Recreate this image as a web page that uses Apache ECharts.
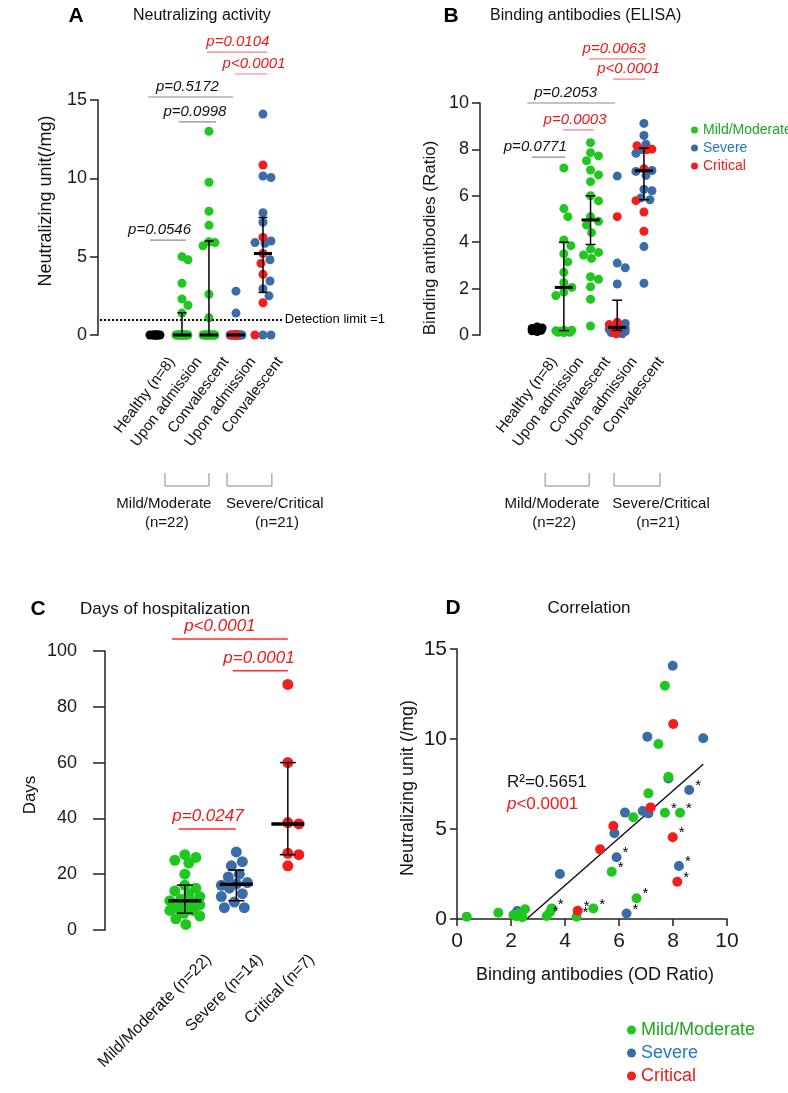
<!DOCTYPE html>
<html>
<head>
<meta charset="utf-8">
<script src="https://cdn.jsdelivr.net/npm/echarts@6.0.0/dist/echarts.min.js"></script>
<style>
html,body{margin:0;padding:0;background:#fff;}
#c{width:788px;height:1093px;}
</style>
</head>
<body>
<div id="c"></div>
<script>
// ---------------- DATA ----------------
const legendNames = ['Mild/Moderate', 'Severe', 'Critical'];
const panelLetters = ['A', 'B', 'C', 'D'];
const panelTitles = ['Neutralizing activity', 'Binding antibodies (ELISA)', 'Days of hospitalization', 'Correlation'];

// Panel A / B categories
const catsAB = ['Healthy (n=8)', 'Upon admission', 'Convalescent', 'Upon admission', 'Convalescent'];
const groupNames = ['Mild/Moderate', 'Severe/Critical'];
const groupCounts = ['(n=22)', '(n=21)'];

// Panel A: neutralizing unit (/mg)
const neutHealthy   = [0, 0, 0, 0, 0, 0, 0, 0];
const neutMildAdm   = [5.0, 4.8, 3.3, 2.3, 1.9, 1.4, 0, 0, 0, 0, 0, 0, 0, 0, 0, 0, 0, 0, 0, 0, 0, 0];
const neutMildConv  = [13.0, 9.75, 7.9, 7.0, 5.95, 5.9, 5.7, 2.6, 1.1, 0, 0, 0, 0, 0, 0, 0, 0, 0, 0, 0, 0, 0];
const neutSevAdm    = [2.8, 1.4, 0, 0, 0, 0, 0, 0, 0, 0, 0, 0, 0, 0];
const neutCritAdm   = [0, 0, 0, 0, 0, 0, 0];
const neutSevConv   = [14.1, 10.15, 10.05, 7.8, 7.2, 6.0, 5.9, 5.85, 4.8, 3.45, 2.95, 2.5, 0, 0];
const neutCritConv  = [10.85, 6.23, 5.2, 4.57, 3.87, 2.06, 0];
const neutQ1  = [null, 0, 0, 0, 2.72];
const neutMed = [null, 0, 0, 0, 5.2];
const neutQ3  = [null, 1.42, 6.0, 0, 7.5];
const detectionLimit = 1;
const detectionLabel = 'Detection limit =1';
const pLabelsA = ['p=0.0546', 'p=0.5172', 'p=0.0998', 'p=0.0104', 'p<0.0001'];
const pSigA = [false, false, false, true, true];

// Panel B: binding antibodies (ratio)
const bindHealthy  = [0.35, 0.3, 0.28, 0.25, 0.22, 0.2, 0.18, 0.15];
const bindMildAdm  = [7.2, 5.45, 5.1, 4.1, 3.85, 3.5, 3.15, 2.7, 2.25, 2.05, 1.85, 1.7, 0.2, 0.15, 0.15, 0.12, 0.2, 0.1, 0.15, 0.18, 0.12, 0.15];
const bindMildConv = [8.29, 7.86, 7.72, 7.51, 7.11, 6.9, 6.61, 6.0, 5.78, 5.1, 4.9, 4.74, 4.41, 3.7, 3.56, 3.45, 3.3, 2.51, 2.4, 2.08, 1.54, 0.39];
const bindSevAdm   = [6.85, 3.1, 2.9, 2.2, 0.5, 0.4, 0.35, 0.3, 0.25, 0.2, 0.15, 0.1, 0.1, 0.05];
const bindCritAdm  = [5.1, 0.55, 0.45, 0.3, 0.2, 0.1, 0.05];
const bindSevConv  = [9.12, 8.6, 8.22, 7.99, 7.83, 7.09, 7.05, 6.88, 6.28, 6.22, 5.91, 5.83, 3.81, 2.23];
const bindCritConv = [8.16, 8.01, 7.99, 7.17, 5.79, 5.3, 4.47];
const bindQ1  = [null, 0.19, 3.9, 0.2, 5.83];
const bindMed = [null, 2.05, 4.96, 0.33, 7.08];
const bindQ3  = [null, 4.0, 6.0, 1.5, 8.05];
const pLabelsB = ['p=0.0771', 'p=0.0003', 'p=0.2053', 'p=0.0063', 'p<0.0001'];
const pSigB = [false, true, false, true, true];

// Panel C: days of hospitalization
const catsC = ['Mild/Moderate (n=22)', 'Severe (n=14)', 'Critical (n=7)'];
const daysMild     = [27, 26, 25, 24, 20, 16, 15, 14, 13, 12, 11, 10.5, 10, 9, 9, 8, 7, 7, 6, 5, 4, 2];
const daysSevere   = [28, 24.5, 23, 20, 19, 17, 16.5, 16, 15, 13, 12, 10, 8, 8];
const daysCritical = [88, 60, 38.5, 38, 27.5, 27, 23];
const daysQ1  = [6.0, 10.5, 27];
const daysMed = [10.5, 16.4, 38];
const daysQ3  = [16.1, 21.5, 60];
const pLabelsC = ['p<0.0001', 'p=0.0001', 'p=0.0247'];
const pSigC = [true, true, true];

// Panel D: correlation [binding OD ratio, neutralizing unit]
const corrMild = [[0.36,0.13],[1.53,0.35],[2.09,0.22],[2.2,0.15],[2.3,0.3],[2.42,0.1],[2.52,0.54],[3.32,0.17],[3.45,0.4],[3.51,0.59],[4.43,0.13],[5.05,0.59],[5.73,2.63],[6.53,5.65],[6.65,1.15],[7.09,6.98],[7.46,9.72],[7.7,12.96],[7.83,7.9],[7.7,5.9],[8.26,5.9]];
const corrMildStar = [0,0,0,0,0,0,0,1,0,1,1,1,1,0,1,0,0,0,0,1,1];
const corrSevere = [[2.23,0.44],[3.81,2.5],[5.83,4.76],[5.91,3.43],[6.22,5.91],[6.28,0.31],[6.88,6.0],[7.09,5.87],[7.05,10.13],[7.83,7.81],[7.99,14.07],[8.22,2.94],[8.6,7.17],[9.12,10.04]];
const corrSevereStar = [0,0,0,1,0,1,0,0,0,0,0,1,1,0];
const corrCritical = [[4.47,0.46],[5.3,3.87],[5.79,5.17],[7.17,6.2],[7.99,4.54],[8.01,10.83],[8.16,2.07]];
const corrCriticalStar = [1,0,0,0,1,0,1];
const fitLine = [[2.58, 0], [9.12, 8.6]];
const r2Text = 'R²=0.5651';
const corrPText = '<0.0001';

// ---------------- STYLE / LAYOUT ----------------
const FONT = '"Liberation Sans", Arial, Helvetica, sans-serif';
const GREEN = '#1fc71f', BLUE = '#3a6da8', RED = '#f21d1d', BLACK = '#000';
const GREEN_T = '#1aa81a', BLUE_T = '#1f78c8', RED_T = '#ee1b1b';
const AX = '#222';

const LA = {left: 98, top: 100, height: 235, xmin: -2.11, xmax: 5.0, ppx: 27, ymax: 15};
const LB = {left: 480, top: 103, height: 232, xmin: -2.14, xmax: 4.6, ppx: 26.7, ymax: 10};
const LC = {left: 105, top: 651, height: 279, xmin: -1.55, xmax: 2.6, ppx: 51.5, ymax: 100};
const LD = {left: 457, top: 649, width: 270, height: 270};

// annotation geometry in data units: [x1, x2, yLine, textX]
const pGeomA = [[-0.19, 1.15, 6.06, 0.17], [-0.26, 2.89, 15.19, 1.2], [0.89, 2.26, 13.6, 1.48], [1.93, 4.15, 18.06, 3.07], [2.96, 4.15, 16.66, 3.67]];
const pGeomB = [[-0.19, 1.05, 7.67, -0.07], [0.97, 2.13, 8.84, 1.42], [-0.37, 2.92, 10.0, 1.07], [1.95, 4.08, 11.9, 2.88], [2.85, 4.04, 11.03, 3.43]];
const pGeomC = [[-0.25, 2.0, 104.3, 0.68], [0.93, 2.0, 92.9, 1.44], [-0.12, 0.99, 36.2, 0.45]];
const bracketsA = [[0.37, 2.0], [2.67, 4.33]];
const bracketsB = [[0.3, 1.95], [2.88, 4.6]];
const groupTextA = [[0.33, 0.44], [4.44, 4.52]];
const groupTextB = [[0.56, 0.64], [4.64, 4.53]];

function grid(L) {
  const w = L.width || (L.xmax - L.xmin) * L.ppx;
  return {left: L.left, top: L.top, width: w, height: L.height};
}

// simple beeswarm: offsets (px) so that dots in one column overlap little
function swarm(groups, cat, L, diam, maxOff) {
  const pxY = L.height / L.ymax;
  const pts = [];
  groups.forEach((vals, g) => vals.forEach((v, i) => pts.push({g, i, v})));
  const order = pts.slice().sort((a, b) => b.v - a.v);
  const placed = [];
  order.forEach(p => {
    const py = p.v * pxY;
    let best = 0, bestScore = -1;
    for (let k = 0; k <= 2 * maxOff; k++) {
      const off = (k % 2 ? 1 : -1) * Math.ceil(k / 2);
      let md = Infinity;
      for (const q of placed) {
        const d = Math.hypot(off - q.ox, py - q.py);
        if (d < md) md = d;
      }
      if (md >= diam) { best = off; bestScore = Infinity; break; }
      if (md > bestScore + 0.01) { bestScore = md; best = off; }
    }
    p.ox = best; p.py = py; placed.push(p);
  });
  const out = groups.map(v => new Array(v.length));
  pts.forEach(p => { out[p.g][p.i] = [cat + p.ox / L.ppx, p.v]; });
  return out;
}

// swarms
const aH = swarm([neutHealthy], 0, LA, 9, 5);
const aM1 = swarm([neutMildAdm], 1, LA, 9, 6);
const aM2 = swarm([neutMildConv], 2, LA, 9, 6);
const aS3 = swarm([neutSevAdm, neutCritAdm], 3, LA, 9, 6);
const aS4 = swarm([neutSevConv, neutCritConv], 4, LA, 9, 8);

const bH = swarm([bindHealthy], 0, LB, 9, 5);
const bM1 = swarm([bindMildAdm], 1, LB, 9, 8);
const bM2 = swarm([bindMildConv], 2, LB, 9, 8);
const bS3 = swarm([bindSevAdm, bindCritAdm], 3, LB, 9, 8);
const bS4 = swarm([bindSevConv, bindCritConv], 4, LB, 9, 8);

const cM = swarm([daysMild], 0, LC, 11, 15);
const cS = swarm([daysSevere], 1, LC, 11, 15);
const cC = swarm([daysCritical], 2, LC, 11, 15);

function stats(q1, med, q3) {
  const out = [];
  q1.forEach((v, i) => { if (v !== null) out.push([i, q1[i], med[i], q3[i]]); });
  return out;
}

function errRender(cap, mh, mw) {
  return function (params, api) {
    const x = api.value(0), lo = api.value(1), md = api.value(2), hi = api.value(3);
    const a = api.coord([x, lo]), m = api.coord([x, md]), b = api.coord([x, hi]);
    const st = {stroke: '#000', lineWidth: 1.5};
    const ch = [];
    if (hi > lo) {
      ch.push({type: 'line', shape: {x1: a[0], y1: a[1], x2: b[0], y2: b[1]}, style: st});
      ch.push({type: 'line', shape: {x1: a[0] - cap, y1: a[1], x2: a[0] + cap, y2: a[1]}, style: st});
      ch.push({type: 'line', shape: {x1: b[0] - cap, y1: b[1], x2: b[0] + cap, y2: b[1]}, style: st});
    }
    ch.push({type: 'line', shape: {x1: m[0] - mh, y1: m[1], x2: m[0] + mh, y2: m[1]}, style: {stroke: '#000', lineWidth: mw}});
    return {type: 'group', children: ch};
  };
}

function scat(name, data, gi, color, size, extra) {
  return Object.assign({
    type: 'scatter', name, data, xAxisIndex: gi, yAxisIndex: gi,
    symbolSize: size, clip: false, z: 2,
    itemStyle: {color, opacity: 1}, emphasis: {disabled: true}
  }, extra || {});
}

function yAx(gi, max, interval, tickLen, margin, fs) {
  return {
    gridIndex: gi, type: 'value', min: 0, max, interval,
    axisLine: {show: true, onZero: false, lineStyle: {color: AX, width: 1.5}},
    axisTick: {show: true, length: tickLen, lineStyle: {color: AX, width: 1.5}},
    axisLabel: {fontSize: fs, color: '#1a1a1a', margin, fontFamily: FONT},
    splitLine: {show: false}
  };
}
function xHidden(gi, L) {
  return {gridIndex: gi, type: 'value', min: L.xmin, max: L.xmax, show: false, splitLine: {show: false},
          axisLine: {onZero: false}};
}

function starData(pts, stars) {
  return pts.map((p, i) => stars[i] ? {value: p, label: {show: true}} : {value: p});
}
const starLabel = {show: false, formatter: '*', position: 'right', distance: 1, offset: [0, -4], fontSize: 15, color: '#000', fontFamily: FONT};

const option = {
  backgroundColor: '#fff',
  animation: false,
  textStyle: {fontFamily: FONT},
  grid: [grid(LA), grid(LB), grid(LC), grid(LD)],
  xAxis: [
    xHidden(0, LA), xHidden(1, LB), xHidden(2, LC),
    {gridIndex: 3, type: 'value', min: 0, max: 10, interval: 2,
     axisLine: {show: true, onZero: false, lineStyle: {color: AX, width: 1.5}},
     axisTick: {show: true, length: 7, lineStyle: {color: AX, width: 1.5}},
     axisLabel: {fontSize: 21, color: '#1a1a1a', margin: 12, fontFamily: FONT},
     splitLine: {show: false}}
  ],
  yAxis: [
    yAx(0, 15, 5, 8, 11, 18),
    yAx(1, 10, 2, 8, 11, 18),
    yAx(2, 100, 20, 12, 28, 18),
    yAx(3, 15, 5, 7, 10, 21)
  ],
  legend: [
    {orient: 'vertical', left: 686, top: 118, itemWidth: 7, itemHeight: 7, itemGap: 4, icon: 'circle',
     selectedMode: false, textStyle: {fontSize: 14, fontFamily: FONT},
     data: [{name: legendNames[0], textStyle: {color: GREEN_T}}, {name: legendNames[1], textStyle: {color: BLUE_T}}, {name: legendNames[2], textStyle: {color: RED_T}}]},
    {orient: 'vertical', left: 622, top: 1016, itemWidth: 9, itemHeight: 9, itemGap: 5, icon: 'circle',
     selectedMode: false, textStyle: {fontSize: 18, fontFamily: FONT},
     data: [{name: legendNames[0], textStyle: {color: GREEN_T}}, {name: legendNames[1], textStyle: {color: BLUE_T}}, {name: legendNames[2], textStyle: {color: RED_T}}]}
  ],
  series: [
    // Panel A
    scat('Healthy', aH[0], 0, BLACK, 9, {
      markLine: {silent: true, symbol: ['none', 'none'], animation: false,
        lineStyle: {type: 'dotted', color: '#000', width: 2},
        label: {show: true, position: 'end', formatter: detectionLabel, fontSize: 13, color: '#000', distance: 3, fontFamily: FONT},
        emphasis: {disabled: true},
        data: [[{coord: [-2.04, detectionLimit]}, {coord: [4.7, detectionLimit]}]]}
    }),
    scat(legendNames[0], aM1[0].concat(aM2[0]), 0, GREEN, 9),
    scat(legendNames[1], aS3[0].concat(aS4[0]), 0, BLUE, 9),
    scat(legendNames[2], aS3[1].concat(aS4[1]), 0, RED, 9),
    {type: 'custom', name: 'statsA', xAxisIndex: 0, yAxisIndex: 0, z: 5, clip: false,
     renderItem: errRender(4.5, 9, 3), data: stats(neutQ1, neutMed, neutQ3), encode: {x: 0, y: [1, 2, 3]}, silent: true},
    // Panel B
    scat('Healthy', bH[0], 1, BLACK, 9),
    scat(legendNames[0], bM1[0].concat(bM2[0]), 1, GREEN, 9),
    scat(legendNames[1], bS3[0].concat(bS4[0]), 1, BLUE, 9),
    scat(legendNames[2], bS3[1].concat(bS4[1]), 1, RED, 9),
    {type: 'custom', name: 'statsB', xAxisIndex: 1, yAxisIndex: 1, z: 5, clip: false,
     renderItem: errRender(5, 9, 3), data: stats(bindQ1, bindMed, bindQ3), encode: {x: 0, y: [1, 2, 3]}, silent: true},
    // Panel C
    scat(legendNames[0], cM[0], 2, GREEN, 11),
    scat(legendNames[1], cS[0], 2, BLUE, 11),
    scat(legendNames[2], cC[0], 2, RED, 11),
    {type: 'custom', name: 'statsC', xAxisIndex: 2, yAxisIndex: 2, z: 5, clip: false,
     renderItem: errRender(8, 16.5, 3.5), data: stats(daysQ1, daysMed, daysQ3), encode: {x: 0, y: [1, 2, 3]}, silent: true},
    // Panel D
    scat(legendNames[1], starData(corrSevere, corrSevereStar), 3, BLUE, 10, {label: starLabel}),
    scat(legendNames[0], starData(corrMild, corrMildStar), 3, GREEN, 10, {label: starLabel}),
    scat(legendNames[2], starData(corrCritical, corrCriticalStar), 3, RED, 10, {label: starLabel}),
    {type: 'line', name: 'fit', xAxisIndex: 3, yAxisIndex: 3, data: fitLine, symbol: 'none', z: 1,
     lineStyle: {color: '#111', width: 1.5}, silent: true, emphasis: {disabled: true}}
  ]
};

const chart = echarts.init(document.getElementById('c'), null, {renderer: 'canvas'});
chart.setOption(option);

// ---------------- ANNOTATIONS ----------------
const G = [];
const toPx = (gi, p) => chart.convertToPixel({gridIndex: gi}, p);
function txt(x, y, text, st, rot) {
  G.push({type: 'text', x, y, rotation: rot || 0, silent: true, z: 100,
    style: Object.assign({text, fill: '#111', fontFamily: FONT, fontSize: 15, align: 'center', verticalAlign: 'middle'}, st || {})});
}
function ln(x1, y1, x2, y2, color, w) {
  G.push({type: 'line', silent: true, z: 100, shape: {x1, y1, x2, y2}, style: {stroke: color, lineWidth: w}});
}

// titles
txt(76, 16, panelLetters[0], {fontSize: 21, fontWeight: 'bold', fill: '#000'});
txt(133, 16, panelTitles[0], {fontSize: 16, align: 'left'});
txt(451, 16, panelLetters[1], {fontSize: 21, fontWeight: 'bold', fill: '#000'});
txt(490, 16, panelTitles[1], {fontSize: 16, align: 'left'});
txt(38, 609, panelLetters[2], {fontSize: 21, fontWeight: 'bold', fill: '#000'});
txt(80, 609, panelTitles[2], {fontSize: 17, align: 'left'});
txt(453, 608, panelLetters[3], {fontSize: 21, fontWeight: 'bold', fill: '#000'});
txt(589, 608, panelTitles[3], {fontSize: 17});

// axis titles
txt(46, 201, 'Neutralizing unit(/mg)', {fontSize: 18}, Math.PI / 2);
txt(430, 238, 'Binding antibodies (Ratio)', {fontSize: 17}, Math.PI / 2);
txt(30, 795, 'Days', {fontSize: 17}, Math.PI / 2);
txt(408, 788, 'Neutralizing unit (/mg)', {fontSize: 18}, Math.PI / 2);
txt(595, 975, 'Binding antibodies (OD Ratio)', {fontSize: 18});

// p-values
function pAnnot(gi, labels, sig, geom, fs, dy, redLine, greyLine, lw) {
  geom.forEach((g, k) => {
    const a = toPx(gi, [g[0], g[2]]), b = toPx(gi, [g[1], g[2]]), t = toPx(gi, [g[3], g[2]]);
    ln(a[0], a[1], b[0], b[1], sig[k] ? redLine : greyLine, lw);
    txt(t[0], a[1] - dy, labels[k], {fontSize: fs, fontStyle: 'italic', fill: sig[k] ? '#f01818' : '#111'});
  });
}
pAnnot(0, pLabelsA, pSigA, pGeomA, 15, 10, '#ff7a7a', '#8c8c8c', 1.2);
pAnnot(1, pLabelsB, pSigB, pGeomB, 15, 10, '#ff7a7a', '#8c8c8c', 1.2);
pAnnot(2, pLabelsC, pSigC, pGeomC, 17, 13, '#ff2a2a', '#8c8c8c', 1.5);

// category labels
function catLabels(gi, cats, deg, dx, dy, fs) {
  cats.forEach((c, i) => {
    const p = toPx(gi, [i, 0]);
    txt(p[0] + dx, p[1] + dy, c, {fontSize: fs, align: 'right'}, deg * Math.PI / 180);
  });
}
catLabels(0, catsAB, 53, 17, 24, 15);
catLabels(1, catsAB, 53, 17, 24, 15);
catLabels(2, catsC, 45, 24, 27, 16);

// brackets + group labels
function groups(gi, br, gt) {
  br.forEach(b => {
    const a = toPx(gi, [b[0], 0]), c = toPx(gi, [b[1], 0]);
    G.push({type: 'polyline', silent: true, z: 100,
      shape: {points: [[a[0], a[1] + 138], [a[0], a[1] + 151], [c[0], a[1] + 151], [c[0], a[1] + 138]]},
      style: {stroke: '#888', lineWidth: 1, fill: null}});
  });
  gt.forEach((g, k) => {
    const p1 = toPx(gi, [g[0], 0]), p2 = toPx(gi, [g[1], 0]);
    txt(p1[0], p1[1] + 169, groupNames[k], {fontSize: 15});
    txt(p2[0], p2[1] + 188, groupCounts[k], {fontSize: 15});
  });
}
groups(0, bracketsA, groupTextA);
groups(1, bracketsB, groupTextB);

// correlation stats text
const r1 = toPx(3, [1.85, 7.61]), r2 = toPx(3, [1.85, 6.39]);
txt(r1[0], r1[1], r2Text, {fontSize: 17, align: 'left'});
G.push({type: 'text', x: r2[0], y: r2[1], silent: true, z: 100,
  style: {text: '{i|p}' + corrPText, fill: '#f01818', fontFamily: FONT, fontSize: 17, align: 'left', verticalAlign: 'middle',
    rich: {i: {fontStyle: 'italic', fill: '#f01818', fontFamily: FONT, fontSize: 17}}}});

chart.setOption({graphic: G});
</script>
</body>
</html>
